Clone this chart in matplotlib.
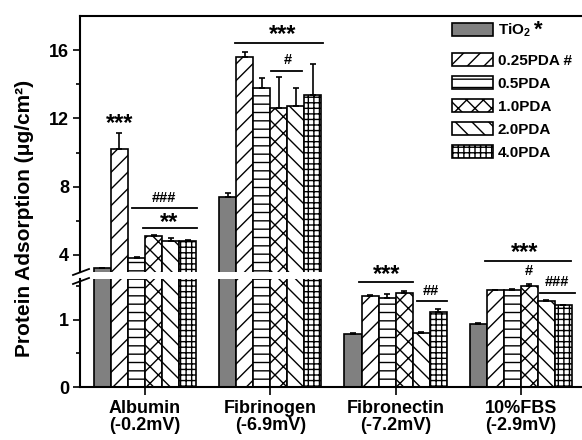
import matplotlib
matplotlib.use('Agg')
import matplotlib.pyplot as plt
import numpy as np
from matplotlib.ticker import FixedLocator
from matplotlib.lines import Line2D

plt.rcParams['font.family'] = ['Liberation Sans', 'DejaVu Sans']
plt.rcParams['font.weight'] = 'bold'
plt.rcParams['mathtext.default'] = 'regular'
plt.rcParams['hatch.linewidth'] = 1.0

# ---------------- data ----------------
categories = ['Albumin\n(-0.2mV)', 'Fibrinogen\n(-6.9mV)',
              'Fibronectin\n(-7.2mV)', '10%FBS\n(-2.9mV)']
series = ['TiO$_2$', '0.25PDA #', '0.5PDA', '1.0PDA', '2.0PDA', '4.0PDA']
tio2 = [3.23, 7.39, 0.785, 0.933]
pda025 = [10.20, 15.60, 1.353, 1.433]
pda05 = [3.82, 13.78, 1.323, 1.437]
pda10 = [5.11, 12.60, 1.397, 1.496]
pda20 = [4.82, 12.72, 0.804, 1.274]
pda40 = [4.82, 13.37, 1.107, 1.210]
err_tio2 = [0.03, 0.24, 0.02, 0.02]
err_025 = [0.94, 0.29, 0.01, 0.01]
err_05 = [0.04, 0.59, 0.055, 0.01]
err_10 = [0.03, 1.82, 0.03, 0.03]
err_20 = [0.17, 1.06, 0.01, 0.01]
err_40 = [0.05, 1.82, 0.045, 0.01]

values = [tio2, pda025, pda05, pda10, pda20, pda40]
errors = [err_tio2, err_025, err_05, err_10, err_20, err_40]
colors = ['#808080', 'white', 'white', 'white', 'white', 'white']
hatches = ['', '//', '--', 'xx', '\\\\', '+++']

W, H = 582, 440
fig = plt.figure(figsize=(W / 100, H / 100), dpi=100)
left = 80 / W
ax_top = fig.add_axes([left, (H - 272) / H, 1 - left, (272 - 16) / H])
ax_bot = fig.add_axes([left, (H - 387) / H, 1 - left, (387 - 279) / H], sharex=ax_top)

g = np.arange(len(categories))
w = 0.136

handles = []
for k in range(6):
    xk = g + (k - 2.5) * w
    for ax in (ax_top, ax_bot):
        b = ax.bar(xk, values[k], w, color=colors[k], edgecolor='black',
                   hatch=hatches[k], linewidth=1.2, label=series[k])
        ax.errorbar(xk, values[k], yerr=[np.zeros(4), errors[k]], fmt='none',
                    ecolor='black', elinewidth=1.2, capsize=2.5, capthick=1.2)
    handles.append(b)

ax_top.set_ylim(3.0, 18.0)
ax_bot.set_ylim(0, 1.6)
ax_top.set_xlim(-0.519, 3.488)

ax_top.yaxis.set_major_locator(FixedLocator([4, 8, 12, 16]))
ax_top.yaxis.set_minor_locator(FixedLocator([6, 10, 14]))
ax_bot.yaxis.set_major_locator(FixedLocator([0, 1]))
ax_bot.yaxis.set_minor_locator(FixedLocator([0.5, 1.5]))

for ax in (ax_top, ax_bot):
    ax.tick_params(axis='y', which='major', direction='out', length=5, width=1.2,
                   labelsize=13, pad=3)
    ax.tick_params(axis='y', which='minor', direction='out', length=3, width=1.2)
    ax.spines['right'].set_visible(False)
    for s in ax.spines.values():
        s.set_linewidth(1.5)

ax_top.spines['bottom'].set_visible(False)
ax_bot.spines['top'].set_visible(False)
ax_top.tick_params(axis='x', which='both', bottom=False, labelbottom=False)
ax_bot.set_xticks(g)
ax_bot.set_xticklabels(categories, fontsize=13, linespacing=1.0)
ax_bot.tick_params(axis='x', direction='out', length=6, width=1.2, pad=3)

fig.text(25 / W, 1 - 218 / H, 'Protein Adsorption (μg/cm²)', rotation=90,
         ha='center', va='center', fontsize=15)

leg_kw = dict(loc='upper left', bbox_transform=fig.transFigure, frameon=False,
              fontsize=11, handlelength=2.7, handleheight=0.9, handletextpad=0.3,
              labelspacing=0.55, borderpad=0, borderaxespad=0)
leg1 = ax_top.legend(handles=handles[:1], labels=series[:1],
                     bbox_to_anchor=(452 / W, 1 - 22 / H), **leg_kw)
ax_top.add_artist(leg1)
ax_top.legend(handles=handles[1:], labels=series[1:],
              bbox_to_anchor=(452 / W, 1 - 53 / H), **leg_kw)
fig.text(538 / W, 1 - 30 / H, '*', fontsize=16, ha='center', va='center')

# break marks
for yc in (272, 281):
    fig.add_artist(Line2D([73 / W, 89 / W], [1 - (yc + 3) / H, 1 - (yc - 3) / H],
                          color='black', lw=1.3, transform=fig.transFigure))


def ux(gi, u):
    return g[gi] + (u - 2.5) * w


def bracket(ax, gi, u0, u1, y):
    ax.plot([ux(gi, u0), ux(gi, u1)], [y, y], color='black', lw=1.3, clip_on=False)


def mark(ax, gi, u, y, text, size, dy=0):
    ax.annotate(text, (ux(gi, u), y), xytext=(0, dy), textcoords='offset points',
                ha='center', va='center', fontsize=size, annotation_clip=False)

STAR = 17
HASH = 10.5
SD = -3.5
# Albumin
mark(ax_top, 0, 1.0, 11.96, '***', STAR, SD)
bracket(ax_top, 0, 1.73, 5.56, 6.75)
mark(ax_top, 0, 3.6, 7.33, '###', HASH)
bracket(ax_top, 0, 2.38, 5.56, 5.58)
mark(ax_top, 0, 3.9, 6.16, '**', STAR, SD)
# Fibrinogen
bracket(ax_top, 1, 0.44, 5.62, 16.42)
mark(ax_top, 1, 3.2, 17.18, '***', STAR, SD)
bracket(ax_top, 1, 2.56, 4.38, 14.78)
mark(ax_top, 1, 3.5, 15.42, '#', HASH)
# Fibronectin
bracket(ax_bot, 2, 0.38, 3.5, 1.556)
mark(ax_top, 2, 1.97, 3.12, '***', STAR, SD)
bracket(ax_bot, 2, 3.74, 5.5, 1.274)
mark(ax_bot, 2, 4.6, 1.42, '##', HASH)
# 10% FBS
bracket(ax_top, 3, 0.38, 5.44, 3.64)
mark(ax_top, 3, 2.74, 4.41, '***', STAR, SD)
mark(ax_top, 3, 2.97, 3.06, '#', HASH)
bracket(ax_bot, 3, 3.62, 5.68, 1.39)
mark(ax_bot, 3, 4.62, 1.556, '###', HASH)

fig.savefig('out.png', dpi=100)
